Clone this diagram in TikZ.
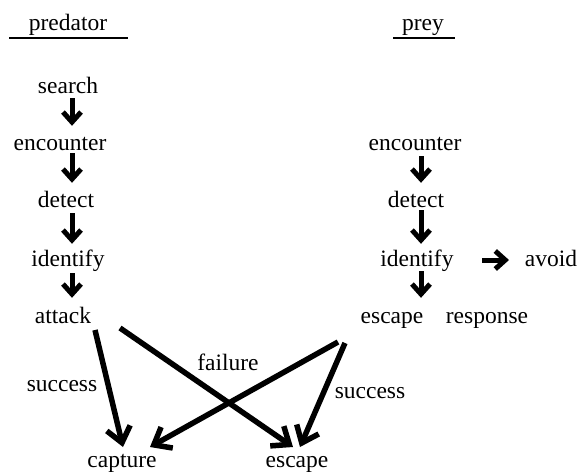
\documentclass[tikz,border=0pt]{standalone}
\usepackage{fontspec}
\setmainfont{Liberation Serif}
\usetikzlibrary{arrows.meta,calc}
\begin{document}
\begin{tikzpicture}[x=1pt,y=-1pt,
  lbl/.style={inner sep=0pt,anchor=base,font=\fontsize{23.5}{28}\selectfont,text height=25pt,text depth=8pt},
  sarr/.style={line width=5pt,-{Straight Barb[length=10pt,width=18pt]}},
  barr/.style={line width=5.5pt,-{Straight Barb[length=15pt,width=24pt]}},
  rule/.style={line width=2pt}]
\useasboundingbox (0,0) rectangle (582,472);
% headers
\node[lbl] (pred) at (68,30) {predator};
\node[lbl] (prey) at (423,30) {prey};
\coordinate (predL) at (9,38); \coordinate (predR) at (128,38);
\coordinate (preyL) at (393,38); \coordinate (preyR) at (455,38);
\draw[rule] (predL) -- (predR);
\draw[rule] (preyL) -- (preyR);
% predator column
\node[lbl] (search) at (68,93) {search};
\node[lbl] (penc) at (60,150) {encounter};
\node[lbl] (pdet) at (66,207) {detect};
\node[lbl] (pid) at (68,266) {identify};
\node[lbl] (attack) at (63,323) {attack};
\coordinate (pcol) at (72,0);
\draw[sarr] (search.south -| pcol) ++(0,-3) -- ([yshift=-1pt]penc.north -| pcol);
\draw[sarr] ([yshift=5pt]penc.south -| pcol) -- ([yshift=-1pt]pdet.north -| pcol);
\draw[sarr] ([yshift=2pt]pdet.south -| pcol) -- ([yshift=-3pt]pid.north -| pcol);
\draw[sarr] ([yshift=1pt]pid.south -| pcol) -- ([yshift=0pt]attack.north -| pcol);
% prey column
\node[lbl] (yenc) at (415,150) {encounter};
\node[lbl] (ydet) at (416,207) {detect};
\node[lbl] (yid) at (417,266) {identify};
\node[lbl] (yesc) at (392,323) {escape};
\node[lbl] (yresp) at (487,323) {response};
\node[lbl] (avoid) at (551,266) {avoid};
\coordinate (ycol) at (421,0);
\draw[sarr] ([yshift=2pt]yenc.south -| ycol) -- ([yshift=-1pt]ydet.north -| ycol);
\draw[sarr] ([yshift=5pt]ydet.south -| ycol) -- ([yshift=-3pt]yid.north -| ycol);
\draw[sarr] ([yshift=3pt]yid.south -| ycol) -- ([yshift=0pt]yesc.north -| ycol);
\draw[sarr] ($(yid.base)+(65,-6)$) -- ($(avoid.base)+(-42,-6)$);
% outcomes
\node[lbl] (capture) at (122,467) {capture};
\node[lbl] (escB) at (297,467) {escape};
\draw[barr] ($(attack.base)+(32,7)$) -- ($(capture.base)+(1,-20)$);
\draw[barr] ($(attack.base)+(57,5)$) -- ($(escB.base)+(-4,-20)$);
\draw[barr] ($(yesc.base)+(-54,19)$) -- ($(capture.base)+(28,-20)$);
\draw[barr] ($(yesc.base)+(-47,20)$) -- ($(escB.base)+(3,-20)$);
% labels
\node[lbl] (s1) at (62,391) {success};
\node[lbl] (fail) at (228,370) {failure};
\node[lbl] (s2) at (370,398) {success};
\end{tikzpicture}
\end{document}
